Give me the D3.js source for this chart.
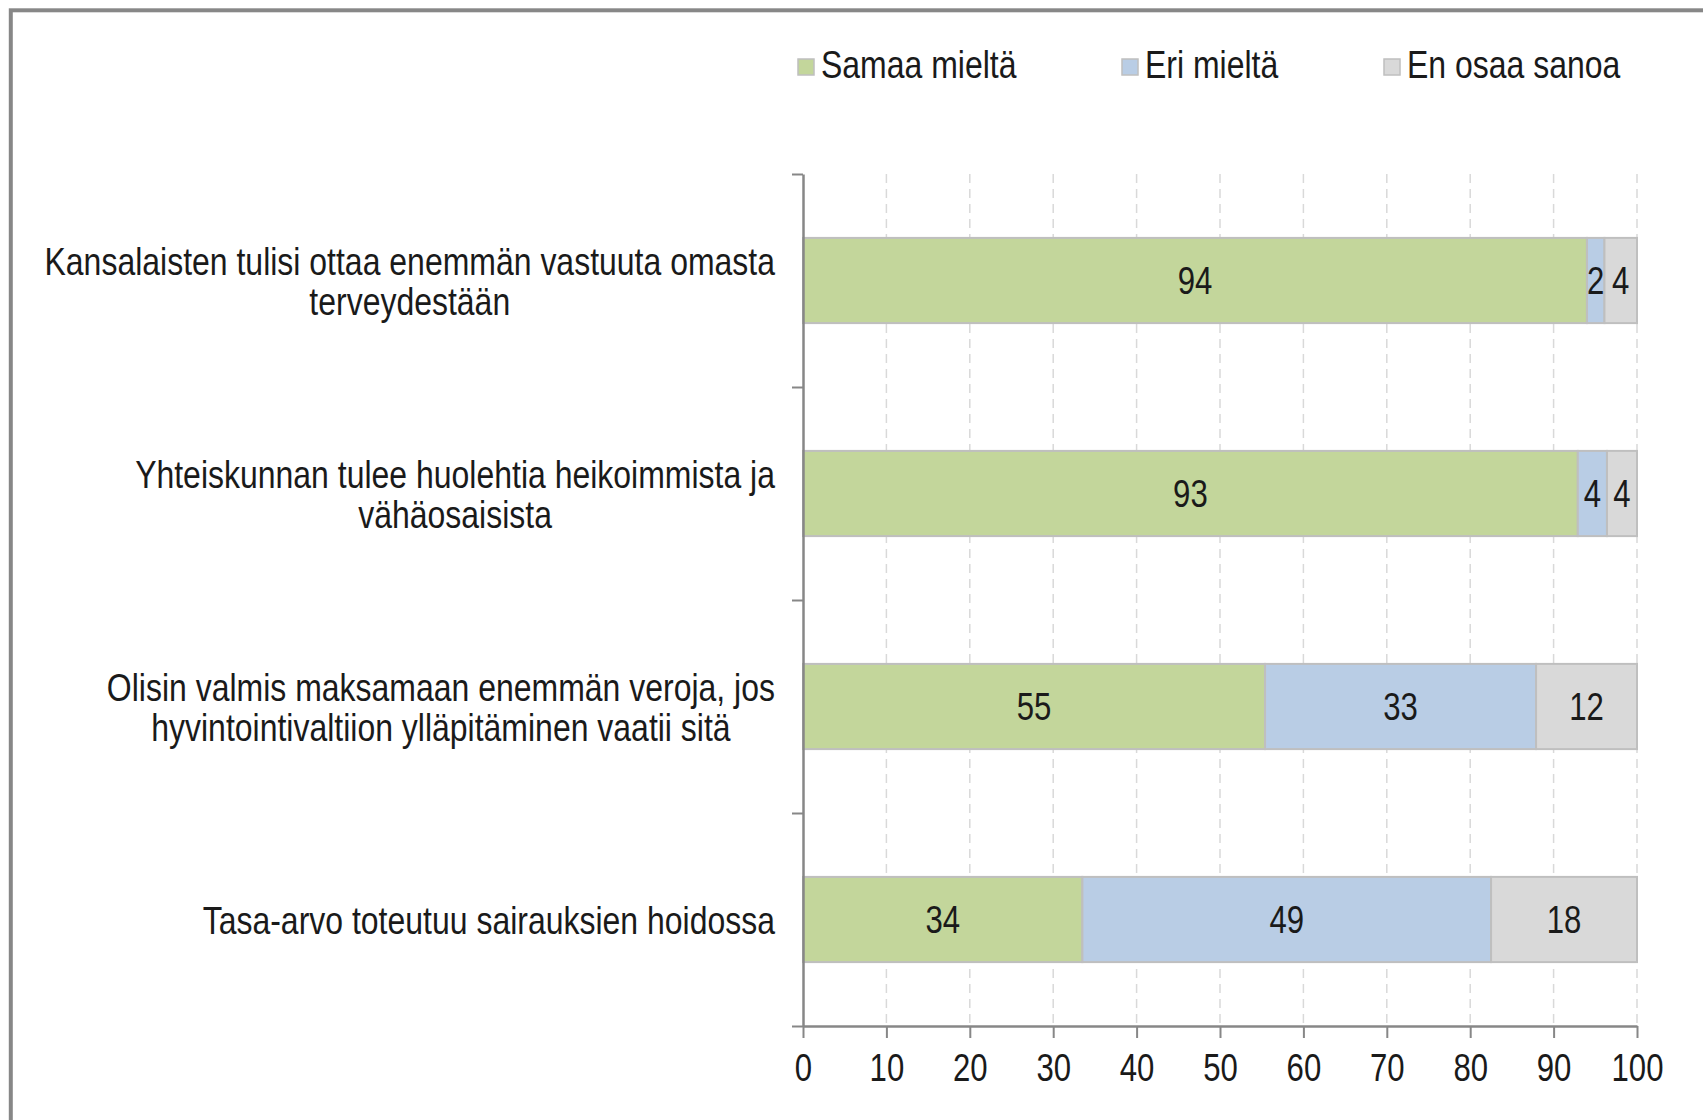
<!DOCTYPE html>
<html>
<head>
<meta charset="utf-8">
<script src="https://cdn.jsdelivr.net/npm/d3@7"></script>
<style>
  html, body { margin: 0; padding: 0; background: #ffffff; }
  svg { display: block; }
</style>
</head>
<body>
<svg id="chart" width="1703" height="1120"></svg>
<script>
// ---------- DATA ----------
const categories = [
  "Kansalaisten tulisi ottaa enemmän vastuuta omasta terveydestään",
  "Yhteiskunnan tulee huolehtia heikoimmista ja vähäosaisista",
  "Olisin valmis maksamaan enemmän veroja, jos hyvintointivaltiion ylläpitäminen vaatii sitä",
  "Tasa-arvo toteutuu sairauksien hoidossa"
];
const categoryLines = [
  ["Kansalaisten tulisi ottaa enemmän vastuuta omasta", "terveydestään"],
  ["Yhteiskunnan tulee huolehtia heikoimmista ja", "vähäosaisista"],
  ["Olisin valmis maksamaan enemmän veroja, jos", "hyvintointivaltiion ylläpitäminen vaatii sitä"],
  ["Tasa-arvo toteutuu sairauksien hoidossa"]
];
const seriesNames = ["Samaa mieltä", "Eri mieltä", "En osaa sanoa"];
const samaaMielta = [94.0, 92.9, 55.4, 33.5];
const eriMielta   = [2.1, 3.5, 32.5, 49.0];
const enOsaaSanoa = [3.9, 3.6, 12.1, 17.5];
const seriesColors = ["#c3d69b", "#b9cde5", "#d9d9d9"];
const xTicks = [0, 10, 20, 30, 40, 50, 60, 70, 80, 90, 100];

// ---------- FONT ----------
function fontAvailable(name) {
  const c = document.createElement("canvas").getContext("2d");
  const s = "Kansalaisten mmmiii 0123";
  c.font = "40px monospace";
  const a = c.measureText(s).width;
  c.font = `40px "${name}", monospace`;
  return Math.abs(c.measureText(s).width - a) > 0.5;
}
const hasNarrow = fontAvailable("Liberation Sans Narrow");
const FONT = hasNarrow ? "'Liberation Sans Narrow', 'Arial Narrow', sans-serif" : "'Liberation Sans', Arial, sans-serif";
const SX = hasNarrow ? 1 : 0.82;
const FS = 38;
const FS_CAT = 39;
const TXT = "#1a1a1a";

// ---------- LAYOUT ----------
const svg = d3.select("#chart");
const plotLeft = 803, plotRight = 1637, plotTop = 174, plotBottom = 1026;

// outer border
svg.append("rect")
  .attr("x", 10.8).attr("y", 10.3)
  .attr("width", 1703).attr("height", 1120)
  .attr("fill", "#ffffff")
  .attr("stroke", "#878787").attr("stroke-width", 4);

const x = d3.scaleLinear().domain([0, 100]).range([plotLeft, plotRight]);
const y = d3.scaleBand().domain(categories).range([plotTop, plotBottom])
  .paddingInner(0.6).paddingOuter(0.3);
const yBound = d3.scaleLinear().domain([0, categories.length]).range([plotTop, plotBottom]);

// gridlines
svg.append("g").selectAll("line")
  .data(xTicks.filter(t => t > 0))
  .join("line")
  .attr("x1", d => x(d)).attr("x2", d => x(d))
  .attr("y1", plotTop).attr("y2", plotBottom)
  .attr("stroke", "#d9d9d9").attr("stroke-width", 1.5)
  .attr("stroke-dasharray", "9,6");

// stacked data
const rows = categories.map((c, i) => ({
  cat: c, vals: [samaaMielta[i], eriMielta[i], enOsaaSanoa[i]]
}));
const segs = [];
rows.forEach(r => {
  let acc = 0;
  r.vals.forEach((v, k) => {
    segs.push({ cat: r.cat, k, x0: acc, x1: acc + v, v });
    acc += v;
  });
});

const barG = svg.append("g");
barG.selectAll("rect")
  .data(segs)
  .join("rect")
  .attr("x", d => x(d.x0))
  .attr("y", d => y(d.cat))
  .attr("width", d => x(d.x1) - x(d.x0))
  .attr("height", y.bandwidth())
  .attr("fill", d => seriesColors[d.k])
  .attr("stroke", "#bfbfbf").attr("stroke-width", 2);

// value labels
barG.selectAll("g.vl")
  .data(segs)
  .join("g").attr("class", "vl")
  .attr("transform", d => `translate(${(x(d.x0) + x(d.x1)) / 2},${y(d.cat) + y.bandwidth() / 2}) scale(${SX},1)`)
  .append("text")
  .attr("text-anchor", "middle")
  .attr("dy", "0.36em")
  .attr("font-family", FONT).attr("font-size", FS).attr("fill", TXT)
  .text(d => Math.round(d.v));

// x axis
const xAxis = svg.append("g")
  .attr("transform", `translate(0,${plotBottom})`)
  .call(d3.axisBottom(x).tickValues(xTicks).tickSize(12).tickSizeOuter(0).tickPadding(16));
xAxis.select(".domain").attr("stroke", "#878787").attr("stroke-width", 2.5);
xAxis.selectAll(".tick line").attr("stroke", "#878787").attr("stroke-width", 2);
xAxis.selectAll(".tick text")
  .attr("font-family", FONT).attr("font-size", FS).attr("fill", TXT)
  .attr("transform", `scale(${SX},1)`);

// y axis (ticks at category boundaries)
const yAxis = svg.append("g")
  .attr("transform", `translate(${plotLeft},0)`)
  .call(d3.axisLeft(yBound).tickValues(d3.range(categories.length + 1)).tickSize(11).tickSizeOuter(0).tickFormat(""));
yAxis.select(".domain").attr("stroke", "#878787").attr("stroke-width", 2.5);
yAxis.selectAll(".tick line").attr("stroke", "#878787").attr("stroke-width", 2);

// category labels
const labelRight = 775;
categories.forEach((c, i) => {
  const lines = categoryLines[i];
  const g = svg.append("g")
    .attr("transform", `translate(${labelRight},${y(c) + y.bandwidth() / 2}) scale(${SX},1)`);
  const texts = lines.map((ln, j) => g.append("text")
    .attr("font-family", FONT).attr("font-size", FS_CAT).attr("fill", TXT)
    .attr("dy", "0.36em")
    .attr("y", (j - (lines.length - 1) / 2) * 40)
    .text(ln));
  const w = d3.max(texts, t => t.node().getComputedTextLength());
  if (lines.length === 1) {
    texts[0].attr("text-anchor", "end").attr("x", 0);
  } else {
    texts.forEach(t => t.attr("text-anchor", "middle").attr("x", -w / 2));
  }
});

// legend
const legendXs = [798, 1122, 1384];
const lg = svg.append("g");
seriesNames.forEach((name, k) => {
  lg.append("rect")
    .attr("x", legendXs[k]).attr("y", 59)
    .attr("width", 16).attr("height", 16)
    .attr("fill", seriesColors[k])
    .attr("stroke", "#bfbfbf").attr("stroke-width", 1.5);
  lg.append("g")
    .attr("transform", `translate(${legendXs[k] + 23},78) scale(${SX},1)`)
    .append("text")
    .attr("font-family", FONT).attr("font-size", FS_CAT).attr("fill", TXT)
    .text(name);
});
</script>
</body>
</html>
